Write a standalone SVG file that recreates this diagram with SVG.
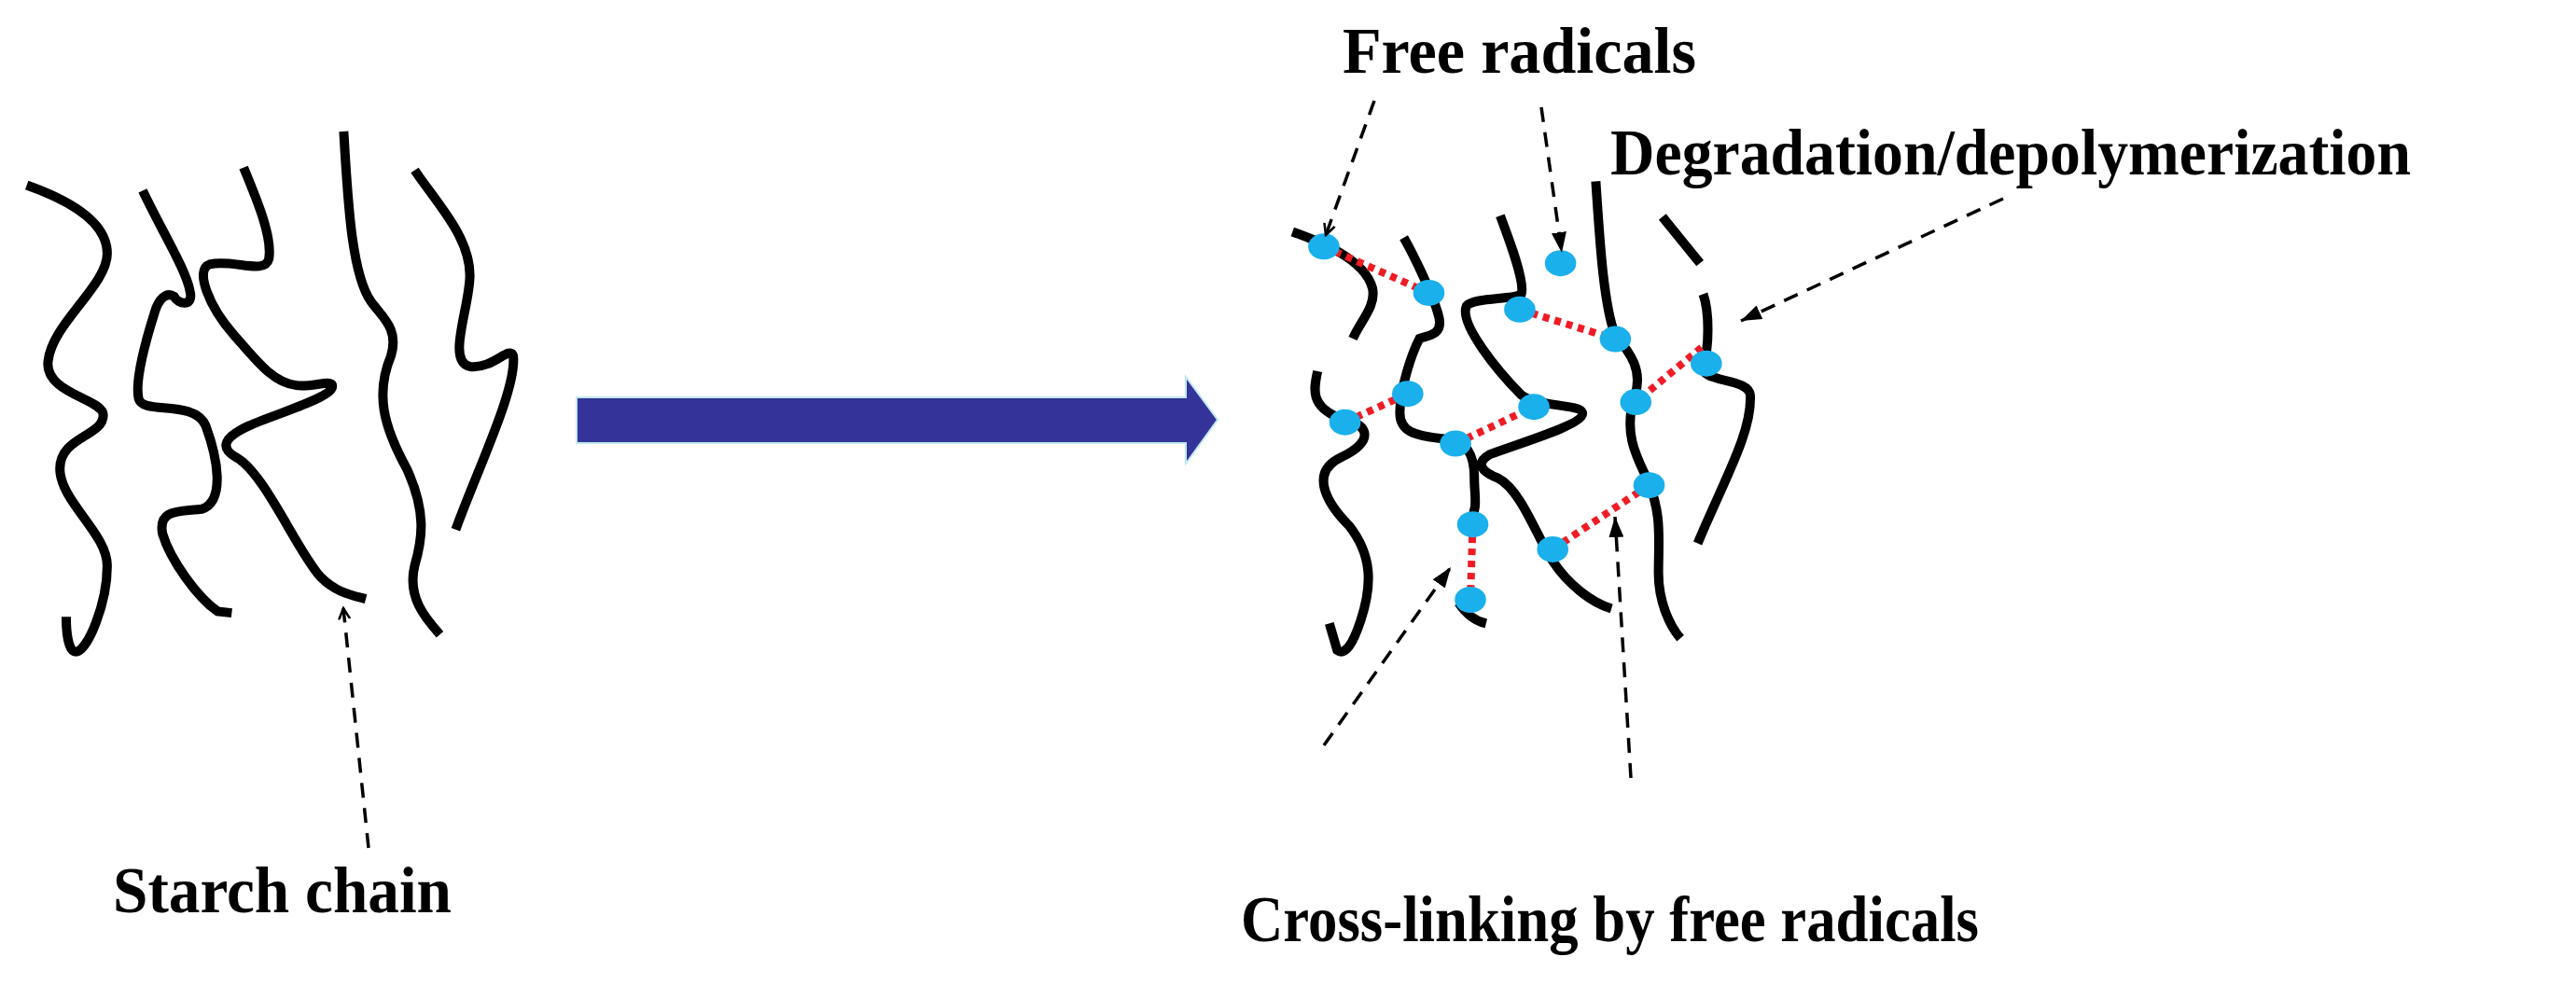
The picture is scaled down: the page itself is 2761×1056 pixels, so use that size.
<svg xmlns="http://www.w3.org/2000/svg" width="2761" height="1056" viewBox="0 0 2761 1056">
<style>
.ch{fill:none;stroke:#000;stroke-width:10;stroke-linecap:butt;vector-effect:non-scaling-stroke}
.lk{fill:none;stroke:#ee1c25;stroke-width:8;stroke-dasharray:7 6;vector-effect:non-scaling-stroke}
.dt{fill:#1ab0ec}
.da{fill:none;stroke:#000;stroke-width:3.5;stroke-dasharray:16 11}
.lb{font-family:"Liberation Serif","Times New Roman",serif;font-weight:bold;font-size:70px;fill:#000}
</style>
<defs>
<marker id="ah" markerWidth="14" markerHeight="14" refX="12" refY="7" orient="auto" markerUnits="userSpaceOnUse" viewBox="0 0 14 14"><path d="M0,1 L12,7 L0,13" fill="none" stroke="#000" stroke-width="2.5"/></marker>
<marker id="ahf" markerWidth="24" markerHeight="24" refX="22" refY="12" orient="auto" markerUnits="userSpaceOnUse" viewBox="0 0 24 24"><path d="M0,4 L22,12 L0,20 Z" fill="#000"/></marker>
</defs>
<rect width="2761" height="1056" fill="#fff"/>
<g id="starch-chains" transform="matrix(0.845 0 0 0.5768 -3.4 98.8)">
<path class="ch" d="M38,173 C90,200 140,240 140,300 C140,360 70,430 65,500 C60,560 135,570 135,600 C135,640 80,640 80,700 C80,760 140,820 140,880 C140,950 115,1040 100,1040 C90,1040 88,1000 88,975"/>
<path class="ch" d="M185,183 C210,260 240,330 245,370 C250,400 230,395 225,380 C215,370 205,385 200,410 C185,480 175,540 180,570 C185,600 250,570 265,620 C280,680 290,760 260,775 C230,780 205,775 210,820 C220,870 255,940 280,965 L298,968"/>
<path class="ch" d="M313,140 C330,200 350,270 345,310 C340,340 300,310 270,320 C250,330 270,400 300,450 C330,500 350,540 380,545 C400,550 430,530 425,550 C420,570 350,600 320,620 C290,640 280,660 305,680 C340,710 380,850 410,900 C430,930 450,935 468,942"/>
<path class="ch" d="M440,73 C445,200 450,340 475,390 C490,420 510,440 500,490 C480,560 490,620 520,700 C545,780 540,830 530,880 C520,940 545,980 562,1008"/>
<path class="ch" d="M530,145 C560,210 600,270 600,340 C600,400 570,500 600,510 C630,515 650,470 655,490 C660,550 610,700 582,813"/>
</g>
<g id="arrow-main">
<path d="M618,426 H1271 V404 L1305,450 L1271,497 V475 H618 Z" fill="#333399" stroke="#bfe8f0" stroke-width="2"/>
</g>
<g id="network" transform="matrix(0.84 0 0 0.6364 1294.6 3.4)">
<path class="ch" d="M108,385 C140,400 200,430 210,480 C215,510 195,535 185,565"/>
<path class="ch" d="M140,620 C135,650 130,680 170,700 C210,710 210,740 170,765 C130,790 150,840 180,880 C210,930 210,980 195,1040 C185,1080 175,1100 165,1090 L155,1045"/>
<path class="ch" d="M250,395 C265,430 290,500 295,530 C300,560 280,560 270,565 C260,590 245,650 245,690 C245,720 260,730 310,735 C330,740 340,760 340,800 C340,830 345,850 335,870"/>
<path class="ch" d="M320,1010 C330,1030 340,1040 355,1045"/>
<path class="ch" d="M373,358 C385,400 405,470 400,490 C390,500 340,495 330,510 C320,540 370,620 400,660 C420,680 475,675 478,690 C480,710 400,740 360,760 C340,775 350,790 370,800 C400,820 420,900 440,940 C460,980 490,1010 515,1020"/>
<path class="ch" d="M495,300 C500,400 505,510 520,560 C540,590 555,620 545,660 C530,720 545,760 560,800 C580,860 575,900 575,960 C575,1010 590,1050 603,1070"/>
<path class="ch" d="M580,360 L628,438"/>
<path class="ch" d="M632,490 C640,520 640,580 632,610 C625,640 690,630 692,660 C695,720 660,800 625,910"/>
<g id="links">
<path class="lk" d="M148,410 L282,488 M398,516 L520,566 M630,580 L546,672 M175,706 L255,658 M316,742 L416,680 M440,920 L563,812 M338,878 L335,1005"/>
</g>
<g id="radicals">
<ellipse class="dt" cx="148" cy="410" rx="20" ry="22"/>
<ellipse class="dt" cx="282" cy="488" rx="20" ry="22"/>
<ellipse class="dt" cx="398" cy="516" rx="20" ry="22"/>
<ellipse class="dt" cx="450" cy="438" rx="20" ry="22"/>
<ellipse class="dt" cx="520" cy="566" rx="20" ry="22"/>
<ellipse class="dt" cx="636" cy="607" rx="20" ry="22"/>
<ellipse class="dt" cx="255" cy="658" rx="20" ry="22"/>
<ellipse class="dt" cx="175" cy="706" rx="20" ry="22"/>
<ellipse class="dt" cx="416" cy="680" rx="20" ry="22"/>
<ellipse class="dt" cx="316" cy="742" rx="20" ry="22"/>
<ellipse class="dt" cx="546" cy="672" rx="20" ry="22"/>
<ellipse class="dt" cx="563" cy="812" rx="20" ry="22"/>
<ellipse class="dt" cx="338" cy="878" rx="20" ry="22"/>
<ellipse class="dt" cx="440" cy="920" rx="20" ry="22"/>
<ellipse class="dt" cx="335" cy="1005" rx="20" ry="22"/>
</g>
</g>
<g id="connectors">
<path class="da" d="M395,909 L368,652" marker-end="url(#ah)"/>
<path class="da" d="M1473,108 L1421,252" marker-end="url(#ah)"/>
<path class="da" d="M1652,115 L1674,271" marker-end="url(#ahf)"/>
<path class="da" d="M2147,213 L1866,344" marker-end="url(#ahf)"/>
<path class="da" d="M1419,799 L1555,608" marker-end="url(#ahf)"/>
<path class="da" d="M1748,834 L1731,554" marker-end="url(#ahf)"/>
</g>
<g id="labels">
<text class="lb" x="121" y="978" textLength="363" lengthAdjust="spacingAndGlyphs">Starch chain</text>
<text class="lb" x="1439" y="78" textLength="379" lengthAdjust="spacingAndGlyphs">Free radicals</text>
<text class="lb" x="1726" y="187" textLength="858" lengthAdjust="spacingAndGlyphs">Degradation/depolymerization</text>
<text class="lb" x="1330" y="1009" textLength="791" lengthAdjust="spacingAndGlyphs">Cross-linking by free radicals</text>
</g>
</svg>
